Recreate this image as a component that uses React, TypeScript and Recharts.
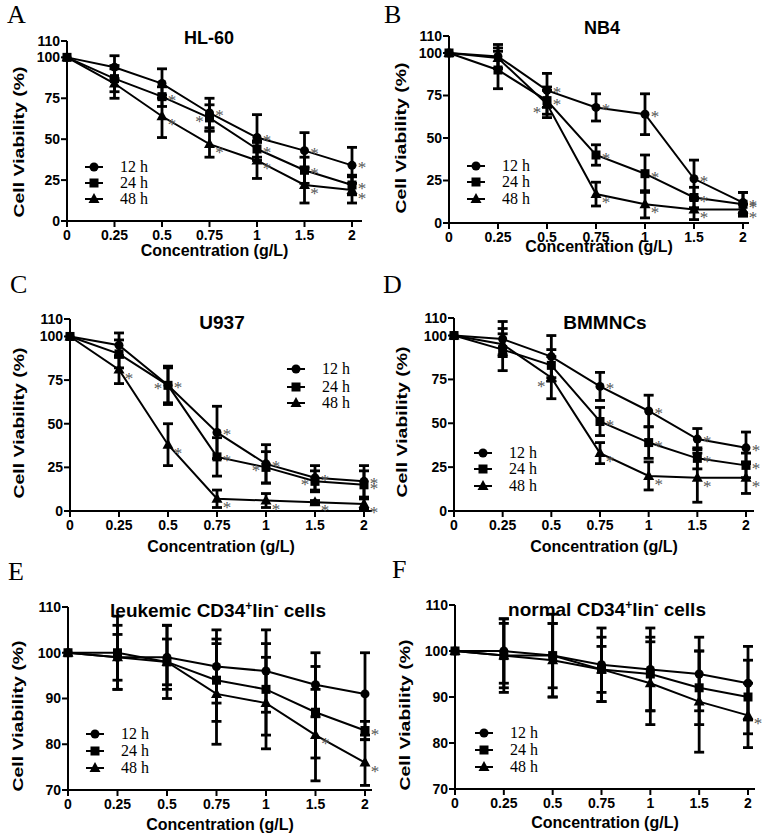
import { LineChart, Line, XAxis, YAxis, ErrorBar, LabelList } from "recharts";

const SANS = "'Liberation Sans', Arial, sans-serif";
const SERIF = "'Liberation Serif', 'Times New Roman', serif";

const CONC = ["0", "0.25", "0.5", "0.75", "1", "1.5", "2"];
const SERIES = ["12 h", "24 h", "48 h"];
const SHAPES = ["circle", "square", "triangle"];
// vertical nudge of the asterisk per series, px
const STAR_DY = [0, 1, 6];

// rows: 12 h, 24 h, 48 h. star: 1 = asterisk right of point, -1 = left
const HL60_MEAN = [
  [100, 94, 84, 66, 51, 43, 34],
  [100, 87, 76, 63, 44, 31, 22],
  [100, 84, 64, 47, 37, 22, 19],
];
const HL60_SD = [
  [0, 7, 9, 9, 14, 11, 11],
  [0, 8, 6, 8, 5, 8, 6],
  [0, 9, 13, 8, 11, 11, 8],
];
const HL60_STAR = [
  [0, 0, 0, 1, 1, 1, 1],
  [0, 0, 1, -1, 1, 1, 1],
  [0, 0, 1, 1, 1, 1, 1],
];

const NB4_MEAN = [
  [100, 98, 78, 68, 64, 26, 12],
  [100, 90, 72, 40, 29, 15, 11],
  [100, 97, 70, 17, 11, 8, 8],
];
const NB4_SD = [
  [0, 7, 10, 8, 12, 11, 6],
  [0, 11, 8, 6, 11, 6, 7],
  [0, 6, 8, 7, 8, 6, 3],
];
const NB4_STAR = [
  [0, 0, 1, 1, 1, 1, 1],
  [0, 0, 1, 1, 1, 1, 1],
  [0, 0, -1, 1, 1, 1, 1],
];

const U937_MEAN = [
  [100, 95, 72, 45, 27, 19, 17],
  [100, 90, 72, 31, 25, 17, 15],
  [100, 81, 38, 7, 6, 5, 4],
];
const U937_SD = [
  [0, 7, 11, 15, 11, 7, 9],
  [0, 8, 10, 11, 9, 6, 8],
  [0, 8, 12, 5, 4, 1, 3],
];
const U937_STAR = [
  [0, 0, 1, 1, 1, 1, 1],
  [0, 0, -1, 1, -1, -1, 1],
  [0, 1, 1, 1, 1, 1, 1],
];

const BMMNC_MEAN = [
  [100, 98, 88, 71, 57, 41, 36],
  [100, 92, 83, 51, 39, 30, 26],
  [100, 95, 76, 33, 20, 19, 19],
];
const BMMNC_SD = [
  [0, 10, 12, 8, 9, 6, 9],
  [0, 12, 9, 8, 9, 6, 7],
  [0, 6, 12, 6, 8, 14, 9],
];
const BMMNC_STAR = [
  [0, 0, 0, 1, 1, 1, 1],
  [0, 0, 0, 1, 1, 1, 1],
  [0, 0, -1, 1, 1, 1, 1],
];

const LEUK_MEAN = [
  [100, 99, 99, 97, 96, 93, 91],
  [100, 100, 98, 94, 92, 87, 83],
  [100, 99, 98, 91, 89, 82, 76],
];
const LEUK_SD = [
  [0, 5, 7, 8, 9, 7, 9],
  [0, 8, 8, 9, 10, 10, 2],
  [0, 7, 5, 11, 10, 10, 5],
];
const LEUK_STAR = [
  [0, 0, 0, 0, 0, 0, 0],
  [0, 0, 0, 0, 0, 0, 1],
  [0, 0, 0, 0, 0, 1, 1],
];

const NORM_MEAN = [
  [100, 100, 99, 97, 96, 95, 93],
  [100, 99, 99, 96, 95, 92, 90],
  [100, 99, 98, 96, 93, 89, 86],
];
const NORM_SD = [
  [0, 7, 9, 8, 9, 8, 8],
  [0, 8, 7, 7, 8, 8, 8],
  [0, 7, 8, 5, 9, 11, 7],
];
const NORM_STAR = [
  [0, 0, 0, 0, 0, 0, 0],
  [0, 0, 0, 0, 0, 0, 0],
  [0, 0, 0, 0, 0, 0, 1],
];

const TICKS_FULL = [0, 25, 50, 75, 100, 110];
const TICKS_ZOOM = [70, 80, 90, 100, 110];

const PANELS = [
  {
    id: "A", title: [["HL-60", 0]], mean: HL60_MEAN, sd: HL60_SD, star: HL60_STAR,
    domain: [0, 110], ticks: TICKS_FULL,
    left: 0, top: 0, h: 270, axisX: 67, yTop: 41, yBot: 221, xLast: 352, xEnd: 362,
    letter: [7, 23], titleX: 209, titleY: 44, titleSize: 18, xLabelY: 256, yLabel: [24, 142],
    legendX: 120, legendY: [167, 183, 199],
  },
  {
    id: "B", title: [["NB4", 0]], mean: NB4_MEAN, sd: NB4_SD, star: NB4_STAR,
    domain: [0, 110], ticks: TICKS_FULL,
    left: 382, top: 0, h: 270, axisX: 67, yTop: 36, yBot: 223, xLast: 361, xEnd: 367,
    letter: [2, 23], titleX: 220, titleY: 34, titleSize: 18, xLabelY: 252, yLabel: [24, 138],
    legendX: 120, legendY: [166, 182, 199],
  },
  {
    id: "C", title: [["U937", 0]], mean: U937_MEAN, sd: U937_SD, star: U937_STAR,
    domain: [0, 110], ticks: TICKS_FULL,
    left: 0, top: 270, h: 290, axisX: 70, yTop: 49, yBot: 241, xLast: 364, xEnd: 372,
    letter: [10, 23], titleX: 222, titleY: 59, titleSize: 19, xLabelY: 282, yLabel: [24, 153],
    legendX: 322, legendY: [99, 117, 133],
  },
  {
    id: "D", title: [["BMMNCs", 0]], mean: BMMNC_MEAN, sd: BMMNC_SD, star: BMMNC_STAR,
    domain: [0, 110], ticks: TICKS_FULL,
    left: 382, top: 270, h: 290, axisX: 72, yTop: 48, yBot: 241, xLast: 364, xEnd: 372,
    letter: [1, 23], titleX: 223, titleY: 59, titleSize: 19, xLabelY: 282, yLabel: [25, 152],
    legendX: 127, legendY: [183, 199, 216],
  },
  {
    id: "E", title: [["leukemic CD34", 0], ["+", 1], ["lin", 0], ["-", 1], [" cells", 0]],
    mean: LEUK_MEAN, sd: LEUK_SD, star: LEUK_STAR,
    domain: [70, 110], ticks: TICKS_ZOOM,
    left: 0, top: 550, h: 286, axisX: 68, yTop: 57, yBot: 240, xLast: 365, xEnd: 372,
    letter: [8, 30], titleX: 218, titleY: 67, titleSize: 19, xLabelY: 280, yLabel: [23, 166],
    legendX: 121, legendY: [184, 201, 218],
  },
  {
    id: "F", title: [["normal CD34", 0], ["+", 1], ["lin", 0], ["-", 1], [" cells", 0]],
    mean: NORM_MEAN, sd: NORM_SD, star: NORM_STAR,
    domain: [70, 110], ticks: TICKS_ZOOM,
    left: 382, top: 550, h: 286, axisX: 73, yTop: 55, yBot: 239, xLast: 366, xEnd: 373,
    letter: [10, 28], titleX: 225, titleY: 66, titleSize: 19, xLabelY: 278, yLabel: [28, 165],
    legendX: 128, legendY: [183, 200, 217],
  },
];

function buildRows(mean: number[][], sd: number[][], star: number[][]) {
  return CONC.map((c, j) => {
    const row: any = { conc: c };
    mean.forEach((m, i) => {
      row[`m${i}`] = m[j];
      row[`e${i}`] = sd[i][j];
      row[`s${i}`] = star[i][j];
    });
    return row;
  });
}

function Marker({ shape, cx, cy }: { shape: string; cx: number; cy: number }) {
  if (shape === "circle") return <circle cx={cx} cy={cy} r={4.5} fill="#000" />;
  if (shape === "square") return <rect x={cx - 4.5} y={cy - 4.5} width={9} height={9} fill="#000" />;
  return <polygon points={`${cx},${cy - 6} ${cx - 5.5},${cy + 4} ${cx + 5.5},${cy + 4}`} fill="#000" />;
}

const starLabel = (series: number) => (p: any) => {
  const dir = Number(p.value);
  if (!dir) return null;
  const x = p.x ?? p.viewBox?.x;
  const y = p.y ?? p.viewBox?.y;
  return (
    <text
      x={x + dir * 10}
      y={y + 8 + STAR_DY[series]}
      textAnchor="middle"
      fontFamily={SERIF}
      fontSize={17}
      fill="#555"
    >
      *
    </text>
  );
};

function Panel({ cfg }: { cfg: any }) {
  const W = 382;
  const rows = buildRows(cfg.mean, cfg.sd, cfg.star);
  const tick = { fontFamily: SANS, fontWeight: "bold", fontSize: 14, fill: "#000" };
  const axisStroke = { stroke: "#000", strokeWidth: 2 };
  let shift = 0;
  return (
    <div style={{ position: "absolute", left: cfg.left, top: cfg.top, width: W, height: cfg.h }}>
      <LineChart
        width={W}
        height={cfg.h}
        data={rows}
        margin={{ top: cfg.yTop, right: W - cfg.xEnd, bottom: cfg.h - cfg.yBot - 30, left: 0 }}
      >
        <XAxis
          dataKey="conc"
          type="category"
          height={30}
          padding={{ left: 0, right: cfg.xEnd - cfg.xLast }}
          tick={tick}
          tickSize={6}
          tickMargin={3}
          interval={0}
          axisLine={axisStroke}
          tickLine={axisStroke}
        />
        <YAxis
          type="number"
          width={cfg.axisX}
          domain={cfg.domain}
          ticks={cfg.ticks}
          interval={0}
          allowDataOverflow
          tick={tick}
          tickSize={6}
          tickMargin={1}
          axisLine={axisStroke}
          tickLine={axisStroke}
        />
        {SERIES.map((s, i) => (
          <Line
            key={s}
            type="linear"
            dataKey={`m${i}`}
            name={s}
            stroke="#000"
            strokeWidth={2}
            isAnimationActive={false}
            activeDot={false}
            dot={(p: any) => <Marker key={`d${i}-${p.index}`} shape={SHAPES[i]} cx={p.cx} cy={p.cy} />}
          >
            <ErrorBar dataKey={`e${i}`} width={5} strokeWidth={2.8} stroke="#000" direction="y" />
            <LabelList dataKey={`s${i}`} content={starLabel(i)} />
          </Line>
        ))}
      </LineChart>
      <svg
        width={W}
        height={cfg.h}
        style={{ position: "absolute", left: 0, top: 0, pointerEvents: "none", overflow: "visible" }}
      >
        <text x={cfg.letter[0]} y={cfg.letter[1]} fontFamily={SERIF} fontSize={26} fill="#000">
          {cfg.id}
        </text>
        <text
          x={cfg.titleX}
          y={cfg.titleY}
          textAnchor="middle"
          fontFamily={SANS}
          fontWeight="bold"
          fontSize={cfg.titleSize}
          fill="#000"
        >
          {cfg.title.map(([t, sup]: [string, number], k: number) => {
            const target = sup ? -7 : 0;
            const dy = target - shift;
            shift = target;
            return (
              <tspan key={k} dy={dy} fontSize={sup ? 12 : cfg.titleSize}>
                {t}
              </tspan>
            );
          })}
        </text>
        <text
          x={(cfg.axisX + cfg.xEnd) / 2}
          y={cfg.xLabelY}
          textAnchor="middle"
          fontFamily={SANS}
          fontWeight="bold"
          fontSize={16}
          fill="#000"
        >
          Concentration (g/L)
        </text>
        <text
          transform={`translate(${cfg.yLabel[0]},${cfg.yLabel[1]}) rotate(-90) scale(1.3,1)`}
          textAnchor="middle"
          fontFamily={SANS}
          fontWeight="bold"
          fontSize={15}
          fill="#000"
        >
          Cell Viability (%)
        </text>
        {SERIES.map((s, i) => {
          const y = cfg.legendY[i];
          const x0 = cfg.legendX - 35;
          return (
            <g key={s}>
              <line x1={x0} x2={x0 + 18} y1={y} y2={y} stroke="#000" strokeWidth={2} />
              <Marker shape={SHAPES[i]} cx={x0 + 9} cy={y} />
              <text x={cfg.legendX} y={y + 5} fontFamily={SERIF} fontSize={16} fill="#000">
                {s}
              </text>
            </g>
          );
        })}
      </svg>
    </div>
  );
}

export default function App() {
  return (
    <div style={{ position: "absolute", left: 0, top: 0, width: 764, height: 836, background: "#fff" }}>
      {PANELS.map((p) => (
        <Panel key={p.id} cfg={p} />
      ))}
    </div>
  );
}
